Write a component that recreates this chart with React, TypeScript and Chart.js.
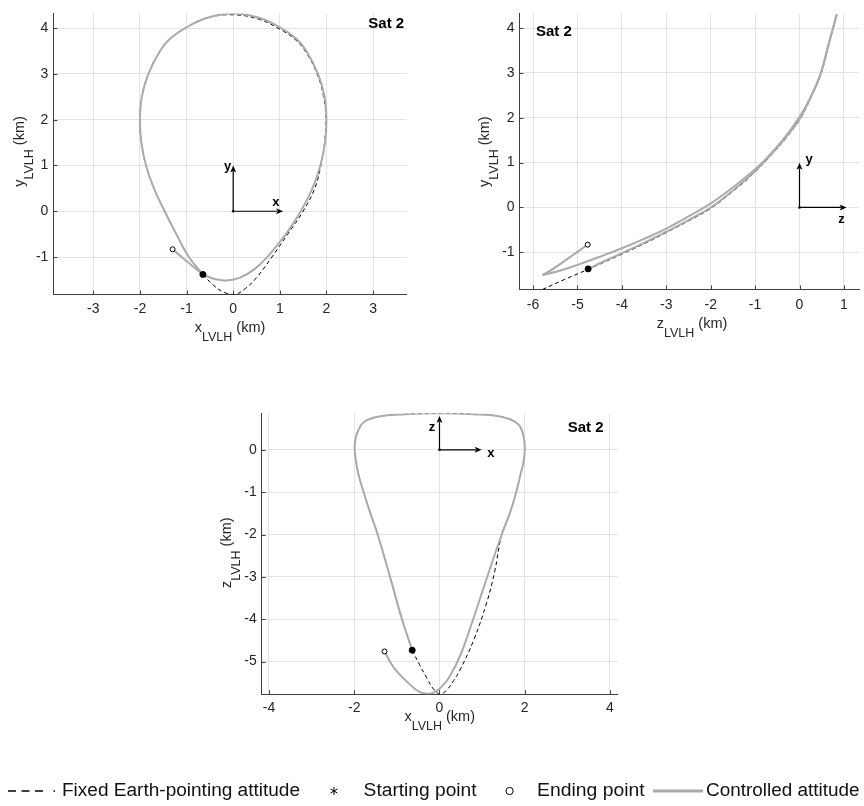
import React, { useEffect, useRef } from 'react';
import { Chart, registerables } from 'chart.js';
Chart.register(...registerables);

// ---------------- Plot 1 : x_LVLH vs y_LVLH ----------------
const P1_X_TICKS = [-3, -2, -1, 0, 1, 2, 3];
const P1_Y_TICKS = [-1, 0, 1, 2, 3, 4];
const P1_X_RANGE = [-3.857, 3.72];
const P1_Y_RANGE = [-1.82, 4.32];
const P1_TAIL_X = [-1.30, -1.08, -0.87, -0.65];
const P1_TAIL_Y = [-0.83, -1.02, -1.20, -1.38];
const P1_GRAY_X = [-0.65, -0.95, -1.22, -1.47, -1.70, -1.87, -1.97, -2.00, -1.96, -1.82, -1.57, -1.35, -1.03, -0.57, 0.00, 0.57, 1.03, 1.35, 1.57, 1.82, 1.96, 2.00, 1.97, 1.87, 1.70, 1.45, 1.13, 0.73, 0.45, 0.15, -0.14, -0.40, -0.65];
const P1_GRAY_Y = [-1.38, -1.00, -0.50, 0.00, 0.50, 1.00, 1.50, 2.00, 2.50, 3.00, 3.50, 3.77, 4.00, 4.22, 4.32, 4.22, 4.00, 3.77, 3.50, 3.00, 2.50, 2.00, 1.50, 1.00, 0.50, 0.00, -0.50, -1.00, -1.27, -1.45, -1.51, -1.48, -1.38];
const P1_DASH_X = [-0.65, -0.43, -0.20, 0.03, 0.27, 0.50, 0.83, 1.17, 1.50, 1.75, 1.88, 1.96, 1.99, 1.94, 1.80, 1.55, 1.33, 1.01, 0.56, 0.00, -0.57, -1.03, -1.35, -1.57, -1.82, -1.96, -2.00, -1.97, -1.87, -1.70, -1.47, -1.22, -0.95, -0.65];
const P1_DASH_Y = [-1.38, -1.61, -1.77, -1.82, -1.68, -1.45, -1.00, -0.50, 0.00, 0.50, 1.00, 1.50, 2.00, 2.50, 3.00, 3.49, 3.75, 3.97, 4.19, 4.29, 4.22, 4.00, 3.77, 3.50, 3.00, 2.50, 2.00, 1.50, 1.00, 0.50, 0.00, -0.50, -1.00, -1.38];
const P1_START = [-0.65, -1.38];
const P1_END = [-1.30, -0.83];
const P1_TRIAD = [1.07, 1.0];

// ---------------- Plot 2 : z_LVLH vs y_LVLH ----------------
const P2_X_TICKS = [-6, -5, -4, -3, -2, -1, 0, 1];
const P2_Y_TICKS = [-1, 0, 1, 2, 3, 4];
const P2_X_RANGE = [-6.306, 1.34];
const P2_Y_RANGE = [-1.83, 4.32];
const P2_TAIL_X = [-4.77, -5.20, -5.55, -5.79];
const P2_TAIL_Y = [-0.83, -1.13, -1.37, -1.51];
const P2_UP_X = [-5.79, -5.40, -5.00, -4.50, -4.00, -3.50, -3.00, -2.50, -2.00, -1.50, -1.00, -0.60, -0.30, 0.00, 0.22, 0.47, 0.65, 0.84];
const P2_UP_Y = [-1.51, -1.41, -1.28, -1.10, -0.91, -0.70, -0.47, -0.20, 0.09, 0.45, 0.85, 1.25, 1.60, 2.02, 2.40, 2.97, 3.62, 4.31];
const P2_LOW_X = [0.84, 0.65, 0.47, 0.21, 0.00, -0.31, -0.61, -1.00, -1.50, -2.00, -2.50, -3.00, -3.50, -4.00, -4.40, -4.76];
const P2_LOW_Y = [4.31, 3.62, 2.96, 2.37, 1.97, 1.56, 1.22, 0.81, 0.38, 0.00, -0.28, -0.54, -0.79, -1.02, -1.20, -1.37];
const P2_DASH_X = [-5.79, -5.30, -4.76, -4.40, -4.00, -3.50, -3.00, -2.50, -2.00, -1.50, -1.00, -0.61, -0.31, 0.00, 0.21, 0.47, 0.65, 0.84];
const P2_DASH_Y = [-1.83, -1.61, -1.38, -1.22, -1.04, -0.81, -0.56, -0.30, -0.02, 0.36, 0.79, 1.20, 1.54, 1.95, 2.35, 2.94, 3.60, 4.30];
const P2_START = [-4.76, -1.37];
const P2_END = [-4.77, -0.83];
const P2_TRIAD = [1.06, 1.0];

// ---------------- Plot 3 : x_LVLH vs z_LVLH ----------------
const P3_X_TICKS = [-4, -2, 0, 2, 4];
const P3_Y_TICKS = [-5, -4, -3, -2, -1, 0];
const P3_X_RANGE = [-4.171, 4.181];
const P3_Y_RANGE = [-5.772, 0.859];
const P3_GRAY_X = [-0.64, -0.88, -1.16, -1.45, -1.62, -1.78, -1.92, -1.99, -1.97, -1.91, -1.78, -1.45, -0.80, 0.00, 0.80, 1.45, 1.84, 1.97, 2.00, 1.97, 1.92, 1.80, 1.65, 1.46, 1.12, 0.79, 0.49, 0.22, 0.00, -0.15, -0.30, -0.48, -0.76, -1.08, -1.29];
const P3_GRAY_Y = [-4.73, -4.00, -3.00, -2.00, -1.50, -1.00, -0.50, 0.00, 0.25, 0.45, 0.65, 0.78, 0.84, 0.86, 0.84, 0.78, 0.61, 0.33, 0.00, -0.30, -0.50, -1.00, -1.50, -2.00, -3.00, -4.00, -4.85, -5.38, -5.64, -5.74, -5.76, -5.71, -5.48, -5.13, -4.76];
const P3_DASH_X = [-0.64, -0.47, -0.30, -0.14, 0.02, 0.17, 0.33, 0.48, 0.80, 1.11, 1.30, 1.46, 1.65, 1.80, 1.92, 1.97, 2.00, 1.97, 1.84, 1.45, 0.80, 0.00, -0.80, -1.45, -1.78, -1.91, -1.97, -1.99, -1.92, -1.78, -1.62, -1.45, -1.16, -0.88, -0.64];
const P3_DASH_Y = [-4.73, -5.07, -5.38, -5.65, -5.77, -5.67, -5.45, -5.20, -4.50, -3.60, -2.85, -2.00, -1.50, -1.00, -0.50, -0.30, 0.00, 0.33, 0.61, 0.78, 0.84, 0.86, 0.84, 0.78, 0.65, 0.45, 0.25, 0.00, -0.50, -1.00, -1.50, -2.00, -3.00, -4.00, -4.73];
const P3_START = [-0.64, -4.73];
const P3_END = [-1.29, -4.76];
const P3_TRIAD = [0.99, 0.8];

const PANEL_LABEL = 'Sat 2';
const LEGEND_LABELS = ['Fixed Earth-pointing attitude', 'Starting point', 'Ending point', 'Controlled attitude'];

// ---------------- styles ----------------
const FONT = '"Liberation Sans", Arial, Helvetica, sans-serif';
const TXT = '#262626';
const GRID = '#e3e3e3';
const AXIS = '#404040';
const GRAY = '#ababab';

const pts = (xs: number[], ys: number[]) => xs.map((x, i) => ({ x, y: ys[i] }));

const SPECS: any[] = [
  {
    ox: 0, oy: 0, w: 432, h: 345,
    pad: { left: 0, right: 25.4, top: 8.3, bottom: 0 }, yW: 53.4, xH: 50.4, xPad: 6,
    xr: P1_X_RANGE, yr: P1_Y_RANGE, xt: P1_X_TICKS, yt: P1_Y_TICKS,
    gray: [[P1_GRAY_X, P1_GRAY_Y], [P1_TAIL_X, P1_TAIL_Y]], dash: [[P1_DASH_X, P1_DASH_Y]],
    start: P1_START, end: P1_END, triad: P1_TRIAD,
    triadLabels: ['y', -5.6, 0.8, 'x', -7.3, -9],
    sat: [368.3, 23.5],
    xTitle: ['x', 230, 332], yTitle: ['y', 24.3, 151.5],
  },
  {
    ox: 432, oy: 0, w: 432, h: 345,
    pad: { left: 0, right: 0, top: 13.8, bottom: 0 }, yW: 87.5, xH: 55.5, xPad: 7,
    xr: P2_X_RANGE, yr: P2_Y_RANGE, xt: P2_X_TICKS, yt: P2_Y_TICKS,
    gray: [[P2_TAIL_X, P2_TAIL_Y], [P2_UP_X, P2_UP_Y], [P2_LOW_X, P2_LOW_Y]], dash: [[P2_DASH_X, P2_DASH_Y]],
    start: P2_START, end: P2_END, triad: P2_TRIAD,
    triadLabels: ['y', 9.7, -2.8, 'z', -5, 12.2],
    sat: [536, 31.7],
    xTitle: ['z', 692, 328], yTitle: ['y', 488.8, 151.6],
  },
  {
    ox: 0, oy: 400, w: 864, h: 406,
    pad: { left: 211.7, right: 246.3, top: 11, bottom: 0 }, yW: 50, xH: 111.7, xPad: 5.5,
    xr: P3_X_RANGE, yr: P3_Y_RANGE, xt: P3_X_TICKS, yt: P3_Y_TICKS,
    gray: [[P3_GRAY_X, P3_GRAY_Y]], dash: [[P3_DASH_X, P3_DASH_Y]],
    start: P3_START, end: P3_END, triad: P3_TRIAD,
    triadLabels: ['z', -7.6, 11.7, 'x', 9.3, 3.6],
    sat: [567.7, 427.7],
    xTitle: ['x', 439.7, 721], yTitle: ['z', 230.5, 552.7],
    legend: true,
  },
];

function drawTitle(ctx: CanvasRenderingContext2D, main: string, cx: number, by: number, rotate: boolean) {
  const F1 = `14.5px ${FONT}`;
  const F2 = `12.5px ${FONT}`;
  const sub = 'LVLH';
  const rest = ' (km)';
  ctx.save();
  ctx.translate(cx, by);
  if (rotate) ctx.rotate(-Math.PI / 2);
  ctx.font = F1;
  const w1 = ctx.measureText(main).width;
  const w3 = ctx.measureText(rest).width;
  ctx.font = F2;
  const w2 = ctx.measureText(sub).width;
  let x = -(w1 + w2 + w3) / 2;
  ctx.fillStyle = TXT;
  ctx.textAlign = 'left';
  ctx.textBaseline = 'alphabetic';
  ctx.font = F1; ctx.fillText(main, x, 0); x += w1;
  ctx.font = F2; ctx.fillText(sub, x, 9); x += w2;
  ctx.font = F1; ctx.fillText(rest, x, 0);
  ctx.restore();
}

function arrow(ctx: CanvasRenderingContext2D, x0: number, y0: number, x1: number, y1: number) {
  const ang = Math.atan2(y1 - y0, x1 - x0);
  const L = 7, W = 3;
  ctx.beginPath();
  ctx.moveTo(x0, y0);
  ctx.lineTo(x1 - Math.cos(ang) * L * 0.8, y1 - Math.sin(ang) * L * 0.8);
  ctx.stroke();
  ctx.beginPath();
  ctx.moveTo(x1, y1);
  ctx.lineTo(x1 - Math.cos(ang) * L - Math.sin(ang) * W, y1 - Math.sin(ang) * L + Math.cos(ang) * W);
  ctx.lineTo(x1 - Math.cos(ang) * L * 0.75, y1 - Math.sin(ang) * L * 0.75);
  ctx.lineTo(x1 - Math.cos(ang) * L + Math.sin(ang) * W, y1 - Math.sin(ang) * L - Math.cos(ang) * W);
  ctx.closePath();
  ctx.fill();
}

function fitText(ctx: CanvasRenderingContext2D, text: string, x0: number, x1: number, cy: number) {
  const w = ctx.measureText(text).width;
  ctx.save();
  ctx.translate(x0, cy);
  ctx.scale((x1 - x0) / w, 1);
  ctx.fillText(text, 0, 0);
  ctx.restore();
}

function drawLegend(ctx: CanvasRenderingContext2D) {
  const cy = 791;
  ctx.save();
  ctx.strokeStyle = '#000';
  ctx.fillStyle = '#000';
  ctx.lineWidth = 1.3;
  ctx.setLineDash([8, 5.5]);
  ctx.beginPath(); ctx.moveTo(8, cy); ctx.lineTo(44, cy); ctx.stroke();
  ctx.setLineDash([]);
  ctx.fillRect(53.5, cy - 0.7, 1.5, 1.5);
  // asterisk
  ctx.lineWidth = 1;
  const ax = 334, r = 4;
  ctx.beginPath();
  for (let k = 0; k < 3; k++) {
    const a = Math.PI / 2 + (k * Math.PI) / 3;
    ctx.moveTo(ax + Math.cos(a) * r, cy + Math.sin(a) * r);
    ctx.lineTo(ax - Math.cos(a) * r, cy - Math.sin(a) * r);
  }
  ctx.stroke();
  // open circle
  ctx.beginPath(); ctx.arc(509.6, cy, 3.6, 0, Math.PI * 2); ctx.stroke();
  // gray line
  ctx.strokeStyle = GRAY; ctx.lineWidth = 3;
  ctx.beginPath(); ctx.moveTo(653, cy); ctx.lineTo(703, cy); ctx.stroke();
  // texts
  ctx.fillStyle = '#111';
  ctx.font = `18px ${FONT}`;
  ctx.textAlign = 'left';
  ctx.textBaseline = 'middle';
  fitText(ctx, LEGEND_LABELS[0], 62, 300, cy);
  fitText(ctx, LEGEND_LABELS[1], 363.6, 476.6, cy);
  fitText(ctx, LEGEND_LABELS[2], 537, 644.6, cy);
  fitText(ctx, LEGEND_LABELS[3], 706, 859.5, cy);
  ctx.restore();
}

function decor(s: any) {
  return {
    id: 'decor',
    afterDraw(chart: any) {
      const ctx: CanvasRenderingContext2D = chart.ctx;
      const xs = chart.scales.x, ys = chart.scales.y;
      const a = chart.chartArea;
      ctx.save();
      // inward tick marks
      ctx.strokeStyle = AXIS; ctx.lineWidth = 1;
      ctx.beginPath();
      s.xt.forEach((v: number) => {
        const px = Math.round(xs.getPixelForValue(v)) + 0.5;
        ctx.moveTo(px, a.bottom); ctx.lineTo(px, a.bottom - 4);
      });
      s.yt.forEach((v: number) => {
        const py = Math.round(ys.getPixelForValue(v)) + 0.5;
        ctx.moveTo(a.left, py); ctx.lineTo(a.left + 4, py);
      });
      ctx.stroke();
      // frame triad
      const ox = xs.getPixelForValue(0), oy = ys.getPixelForValue(0);
      const rx = xs.getPixelForValue(s.triad[0]);
      const uy = ys.getPixelForValue(s.triad[1]);
      ctx.strokeStyle = '#000'; ctx.fillStyle = '#000'; ctx.lineWidth = 1.2;
      arrow(ctx, ox, oy, ox, uy);
      arrow(ctx, ox, oy, rx, oy);
      ctx.beginPath(); ctx.arc(ox, oy, 1.3, 0, Math.PI * 2); ctx.fill();
      const tl = s.triadLabels;
      ctx.font = `bold 13px ${FONT}`;
      ctx.textAlign = 'center'; ctx.textBaseline = 'middle';
      ctx.fillText(tl[0], ox + tl[1], uy + tl[2]);
      ctx.fillText(tl[3], rx + tl[4], oy + tl[5]);
      // page-coordinate items
      ctx.translate(-s.ox, -s.oy);
      ctx.fillStyle = '#000';
      ctx.font = `bold 15px ${FONT}`;
      ctx.textAlign = 'left'; ctx.textBaseline = 'middle';
      ctx.fillText(PANEL_LABEL, s.sat[0], s.sat[1]);
      drawTitle(ctx, s.xTitle[0], s.xTitle[1], s.xTitle[2], false);
      drawTitle(ctx, s.yTitle[0], s.yTitle[1], s.yTitle[2], true);
      if (s.legend) drawLegend(ctx);
      ctx.restore();
    },
  };
}

function makeConfig(s: any): any {
  const line = (xsA: number[], ysA: number[], dashed: boolean) => ({
    data: pts(xsA, ysA),
    showLine: true,
    pointRadius: 0,
    pointHoverRadius: 0,
    borderColor: dashed ? '#000' : GRAY,
    borderWidth: dashed ? 1 : 2,
    borderDash: dashed ? [4, 3] : [],
    tension: 0.4,
    fill: false,
    order: dashed ? 3 : 2,
  });
  const datasets = [
    ...s.gray.map((g: number[][]) => line(g[0], g[1], false)),
    ...s.dash.map((g: number[][]) => line(g[0], g[1], true)),
    { data: [{ x: s.start[0], y: s.start[1] }], showLine: false, pointRadius: 3, pointBackgroundColor: '#000', pointBorderColor: '#000', pointBorderWidth: 1, order: 1 },
    { data: [{ x: s.end[0], y: s.end[1] }], showLine: false, pointRadius: 2.5, pointBackgroundColor: '#fff', pointBorderColor: '#000', pointBorderWidth: 1, order: 0 },
  ];
  const tickFont = { family: FONT, size: 14 };
  return {
    type: 'line',
    data: { datasets },
    options: {
      animation: false,
      responsive: false,
      maintainAspectRatio: false,
      devicePixelRatio: 1,
      events: [],
      layout: { padding: s.pad },
      plugins: { legend: { display: false }, tooltip: { enabled: false } },
      scales: {
        x: {
          type: 'linear', position: 'bottom', min: s.xr[0], max: s.xr[1],
          afterBuildTicks: (sc: any) => { sc.ticks = s.xt.map((v: number) => ({ value: v })); },
          afterFit: (sc: any) => { sc.height = s.xH; },
          grid: { color: GRID, lineWidth: 1, drawTicks: false },
          border: { display: true, color: AXIS, width: 1 },
          ticks: { font: tickFont, color: TXT, padding: s.xPad, maxRotation: 0, autoSkip: false, callback: (v: any) => String(v) },
        },
        y: {
          type: 'linear', position: 'left', min: s.yr[0], max: s.yr[1],
          afterBuildTicks: (sc: any) => { sc.ticks = s.yt.map((v: number) => ({ value: v })); },
          afterFit: (sc: any) => { sc.width = s.yW; },
          grid: { color: GRID, lineWidth: 1, drawTicks: false },
          border: { display: true, color: AXIS, width: 1 },
          ticks: { font: tickFont, color: TXT, padding: 5, autoSkip: false, callback: (v: any) => String(v) },
        },
      },
    },
    plugins: [decor(s)],
  };
}

function PlotCanvas({ spec }: { spec: any }) {
  const ref = useRef<HTMLCanvasElement>(null);
  useEffect(() => {
    const chart = new Chart(ref.current as HTMLCanvasElement, makeConfig(spec));
    return () => chart.destroy();
  }, [spec]);
  return (
    <canvas
      ref={ref}
      width={spec.w}
      height={spec.h}
      style={{ position: 'absolute', left: spec.ox, top: spec.oy, width: spec.w, height: spec.h }}
    />
  );
}

export default function App() {
  return (
    <div style={{ position: 'absolute', left: 0, top: 0, width: 864, height: 806, background: '#fff', overflow: 'hidden' }}>
      {SPECS.map((s, i) => (
        <PlotCanvas key={i} spec={s} />
      ))}
    </div>
  );
}
